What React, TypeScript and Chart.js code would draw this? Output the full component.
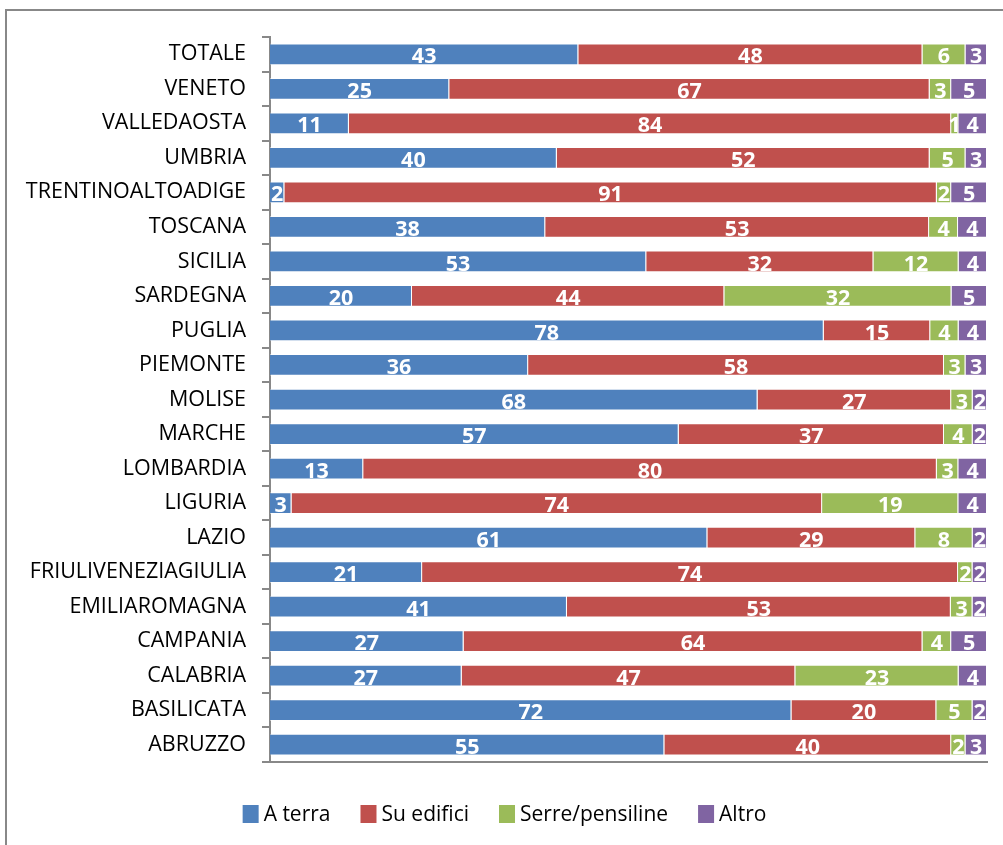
import React, { useEffect, useRef } from "react";
import { Chart, registerables } from "chart.js";

Chart.register(...registerables);

const categories = [
  "TOTALE", "VENETO", "VALLEDAOSTA", "UMBRIA", "TRENTINOALTOADIGE", "TOSCANA",
  "SICILIA", "SARDEGNA", "PUGLIA", "PIEMONTE", "MOLISE", "MARCHE", "LOMBARDIA",
  "LIGURIA", "LAZIO", "FRIULIVENEZIAGIULIA", "EMILIAROMAGNA", "CAMPANIA",
  "CALABRIA", "BASILICATA", "ABRUZZO",
];
const aTerra = [43, 25, 11, 40, 2, 38, 53, 20, 78, 36, 68, 57, 13, 3, 61, 21, 41, 27, 27, 72, 55];
const suEdifici = [48, 67, 84, 52, 91, 53, 32, 44, 15, 58, 27, 37, 80, 74, 29, 74, 53, 64, 47, 20, 40];
const serrePensiline = [6, 3, 1, 5, 2, 4, 12, 32, 4, 3, 3, 4, 3, 19, 8, 2, 3, 4, 23, 5, 2];
const altro = [3, 5, 4, 3, 5, 4, 4, 5, 4, 3, 2, 2, 4, 4, 2, 2, 2, 5, 4, 2, 3];

const seriesNames = ["A terra", "Su edifici", "Serre/pensiline", "Altro"];
const seriesColors = ["#4F81BD", "#C0504D", "#9BBB59", "#8064A2"];

const FONT = "'Open Sans', sans-serif";

export default function App() {
  const ref = useRef<HTMLCanvasElement>(null);

  useEffect(() => {
    if (!ref.current) return;
    const raw = [aTerra, suEdifici, serrePensiline, altro];
    const totals = categories.map((_, i) => raw.reduce((s, a) => s + a[i], 0));
    const datasets = raw.map((arr, k) => ({
      label: seriesNames[k],
      data: arr.map((v, i) => (v / totals[i]) * 100),
      backgroundColor: seriesColors[k],
      borderColor: "rgba(255,255,255,0.45)",
      borderWidth: 1,
      barPercentage: 0.63,
      categoryPercentage: 1,
    }));

    const valueLabels = {
      id: "valueLabels",
      afterDatasetsDraw(chart: any) {
        const ctx = chart.ctx;
        ctx.save();
        ctx.font = `bold 21.5px ${FONT}`;
        ctx.fillStyle = "#ffffff";
        ctx.textAlign = "center";
        ctx.textBaseline = "middle";
        chart.data.datasets.forEach((_: any, di: number) => {
          const meta = chart.getDatasetMeta(di);
          meta.data.forEach((el: any, i: number) => {
            const p = el.getProps(["x", "y", "base"], true);
            ctx.fillText(String(raw[di][i]), (p.x + p.base) / 2, p.y + 3);
          });
        });
        ctx.restore();
      },
    };

    const customLegend = {
      id: "customLegend",
      afterDraw(chart: any) {
        const ctx = chart.ctx;
        ctx.save();
        ctx.font = `21px ${FONT}`;
        const boxW = 16, boxH = 18, gap = 5, spacing = 30;
        const widths = seriesNames.map((n) => boxW + gap + ctx.measureText(n).width);
        const total = widths.reduce((a, b) => a + b, 0) + spacing * (seriesNames.length - 1);
        let x = chart.width / 2 - total / 2 + 3;
        const cy = chart.chartArea.bottom + 52;
        seriesNames.forEach((n, k) => {
          ctx.fillStyle = seriesColors[k];
          ctx.fillRect(x, cy - boxH / 2, boxW, boxH);
          ctx.fillStyle = "#000000";
          ctx.textAlign = "left";
          ctx.textBaseline = "middle";
          ctx.fillText(n, x + boxW + gap, cy + 1);
          x += widths[k] + spacing;
        });
        ctx.restore();
      },
    };

    const chart = new Chart(ref.current, {
      type: "bar",
      data: { labels: categories, datasets },
      plugins: [valueLabels, customLegend],
      options: {
        indexAxis: "y",
        responsive: false,
        animation: false,
        layout: { padding: { top: 37, right: 16, bottom: 83, left: 0 } },
        plugins: {
          legend: { display: false },
          tooltip: { enabled: false },
          title: { display: false },
        },
        scales: {
          x: {
            type: "linear",
            stacked: true,
            min: 0,
            max: 100,
            display: true,
            ticks: { display: false },
            grid: { display: false, drawTicks: false },
            border: { display: true, color: "#888888", width: 2 },
            afterFit: (s: any) => { s.height = 0; },
          },
          y: {
            type: "category",
            stacked: true,
            offset: true,
            grid: {
              offset: true,
              drawOnChartArea: false,
              drawTicks: true,
              tickLength: 8,
              color: "#888888",
              lineWidth: 2,
            },
            border: { display: true, color: "#888888", width: 2 },
            ticks: {
              autoSkip: false,
              padding: 16,
              color: "#000000",
              font: { family: FONT, size: 21.5 },
            },
            afterFit: (s: any) => { s.width = 270; },
          },
        },
      },
    } as any);
    return () => chart.destroy();
  }, []);

  return (
    <div style={{ position: "fixed", left: 0, top: 0, width: 1003, height: 845, background: "#ffffff", overflow: "hidden" }}>
      <div
        style={{
          position: "absolute",
          left: 5,
          top: 9,
          width: 1100,
          height: 1000,
          border: "2px solid #888888",
          boxSizing: "border-box",
        }}
      />
      <canvas ref={ref} width={1003} height={845} style={{ position: "absolute", left: 0, top: 0 }} />
    </div>
  );
}
